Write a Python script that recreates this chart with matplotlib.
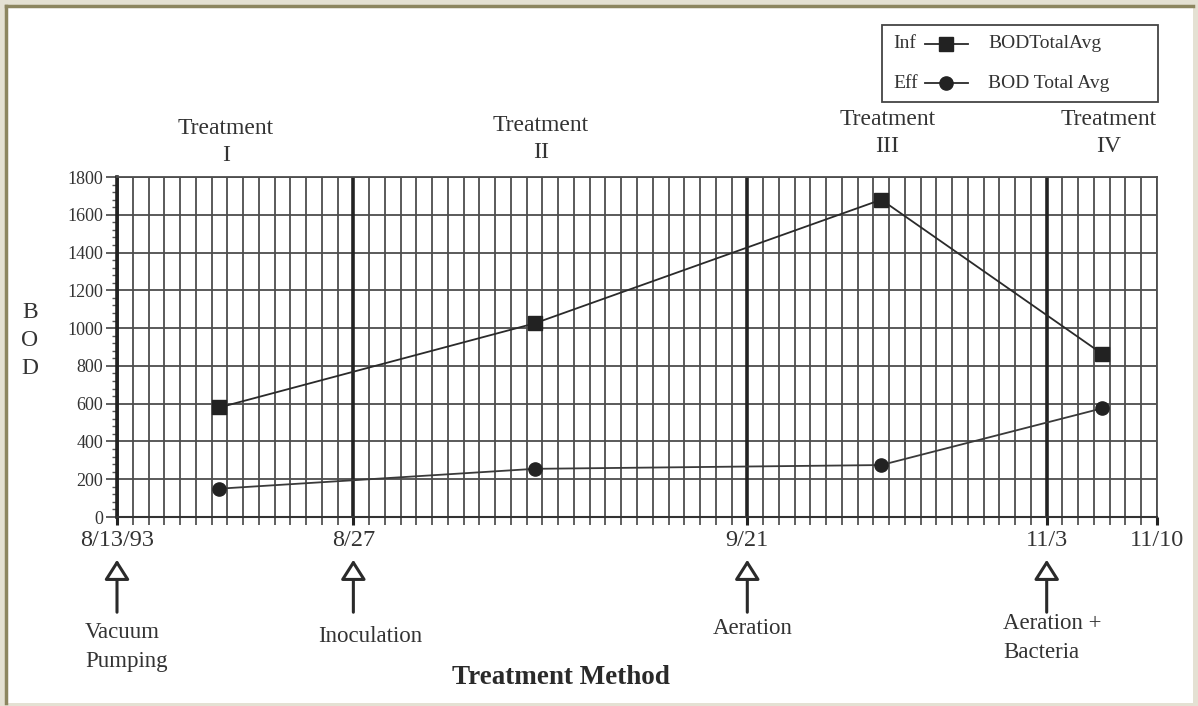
import numpy as np
import matplotlib
matplotlib.use("Agg")
import matplotlib.pyplot as plt
from matplotlib.patches import Rectangle, FancyArrowPatch
from matplotlib.lines import Line2D
import matplotlib.transforms as mtrans

# ---------------- data ----------------
treatments = ["Treatment\nI", "Treatment\nII", "Treatment\nIII", "Treatment\nIV"]
sample_x = [6.5, 26.5, 48.5, 62.5]          # position in grid days
inf_bod = [580, 1025, 1680, 865]
eff_bod = [150, 255, 275, 575]
series_short = ["Inf", "Eff"]
series_labels = ["BODTotalAvg", "BOD Total Avg"]

date_pos = [0, 15, 40, 59, 66]
date_labels = ["8/13/93", "8/27", "9/21", "11/3", "11/10"]
event_pos = [0, 15, 40, 59]
event_labels = ["Vacuum\nPumping", "Inoculation", "Aeration", "Aeration +\nBacteria"]
y_ticks = list(range(0, 1801, 200))

# ---------------- figure ----------------
W, H = 1198, 706
plt.rcParams['font.family'] = ['Liberation Serif', 'DejaVu Serif']
fig = plt.figure(figsize=(W / 100, H / 100), dpi=100)
fig.patch.set_facecolor('#e4e1d3')

def fx(px):
    return px / W

def fy(py):
    return 1 - py / H

# frame
fig.add_artist(Rectangle((fx(5), fy(703)), fx(1193) - fx(5), fy(5) - fy(703),
                         transform=fig.transFigure, facecolor='white', edgecolor='none', zorder=-10))
fig.add_artist(Line2D([fx(6), fx(6)], [fy(703), fy(6)], transform=fig.transFigure, color='#8c8660', lw=2.5))
fig.add_artist(Line2D([fx(6), fx(1193)], [fy(6), fy(6)], transform=fig.transFigure, color='#8c8660', lw=2.5))

TXT = '#333333'
GRID = '#4d4d4d'

L, R, T, B = 117, 1157, 177, 517
ax = fig.add_axes([fx(L), fy(B), fx(R) - fx(L), fy(T) - fy(B)])
ax.set_facecolor('white')
ax.set_xlim(0, 66)
ax.set_ylim(0, 1800)

# grid
ax.set_xticks(np.arange(0, 67), minor=True)
ax.set_xticks(date_pos, date_labels)
ax.set_yticks(y_ticks)
ax.set_yticks(np.arange(0, 1801, 40), minor=True)
ax.grid(True, which='both', axis='x', color=GRID, lw=1.3)
ax.grid(True, which='major', axis='y', color=GRID, lw=1.3)
for xp in event_pos:
    ax.axvline(xp, color='#222222', lw=2.6, zorder=2)
ax.set_axisbelow(True)

for s in ['top', 'right']:
    ax.spines[s].set_color(GRID)
    ax.spines[s].set_linewidth(1.3)
ax.spines['left'].set_color('#222222')
ax.spines['left'].set_linewidth(2.6)
ax.spines['bottom'].set_color('#333333')
ax.spines['bottom'].set_linewidth(1.5)

ax.tick_params(axis='y', which='major', direction='out', length=8, width=1.2, color='#444',
               labelsize=13, labelcolor=TXT, pad=2)
ax.tick_params(axis='y', which='minor', direction='out', length=3.5, width=1.0, color='#555')
ax.tick_params(axis='x', which='minor', direction='out', length=6, width=1.2, color='#444')
ax.tick_params(axis='x', which='major', direction='out', length=6, width=2.2, color='#222',
               labelsize=17.5, labelcolor=TXT, pad=3)

# series
ax.plot(sample_x, inf_bod, color='#2a2a2a', lw=1.3, marker='s', markersize=9.5,
        markerfacecolor='#222', markeredgecolor='#222', zorder=5, clip_on=False)
ax.plot(sample_x, eff_bod, color='#3a3a3a', lw=1.3, marker='o', markersize=9.5,
        markerfacecolor='#222', markeredgecolor='#222', zorder=5, clip_on=False)

# treatment labels above
bt = mtrans.blended_transform_factory(ax.transData, fig.transFigure)
treat_y = [142, 139, 133, 133]
for xp, lab, ty in zip(sample_x, treatments, treat_y):
    fig.text(xp + 0.4, fy(ty), lab, transform=bt, ha='center', va='center',
             fontsize=17, color=TXT, linespacing=1.4)

# event arrows
for xp in event_pos:
    arr = FancyArrowPatch((xp, fy(615)), (xp, fy(557)), transform=bt,
                          arrowstyle='-|>,head_length=0.55,head_width=0.35', mutation_scale=22,
                          facecolor='white', edgecolor='#2a2a2a', lw=2.2, clip_on=False)
    fig.add_artist(arr)

ev_layout = [(85, 647, 'left'), (370, 636, 'center'), (753, 628, 'center'), (1003, 638, 'left')]
for (px, py, ha), lab in zip(ev_layout, event_labels):
    fig.text(fx(px), fy(py), lab, ha=ha, va='center', fontsize=16.5, color=TXT, linespacing=1.45)

# axis titles
fig.text(fx(561), fy(678), "Treatment Method", ha='center', va='center', fontsize=19.5,
         fontweight='bold', color='#2a2a2a')
for ch, py in zip("BOD", [312, 340, 368]):
    fig.text(fx(30), fy(py), ch, ha='center', va='center', fontsize=17, color=TXT)

# legend (manual)
fig.add_artist(Rectangle((fx(882), fy(102)), fx(1158) - fx(882), fy(25) - fy(102),
                         transform=fig.transFigure, facecolor='white', edgecolor='#444', lw=1.3))
leg_rows = [44, 83]
markers = ['s', 'o']
for short, lab, mk, py in zip(series_short, series_labels, markers, leg_rows):
    fig.text(fx(893), fy(py), short, ha='left', va='center', fontsize=14, color=TXT)
    fig.add_artist(Line2D([fx(925), fx(968)], [fy(py), fy(py)], transform=fig.transFigure,
                          color='#2a2a2a', lw=1.3))
    fig.add_artist(Line2D([fx(946)], [fy(py)], transform=fig.transFigure, marker=mk,
                          markersize=9.5, color='#222', linestyle='none'))
    fig.text(fx(988), fy(py), lab, ha='left', va='center', fontsize=14, color=TXT)

fig.savefig("out.png", dpi=100, facecolor=fig.get_facecolor())
